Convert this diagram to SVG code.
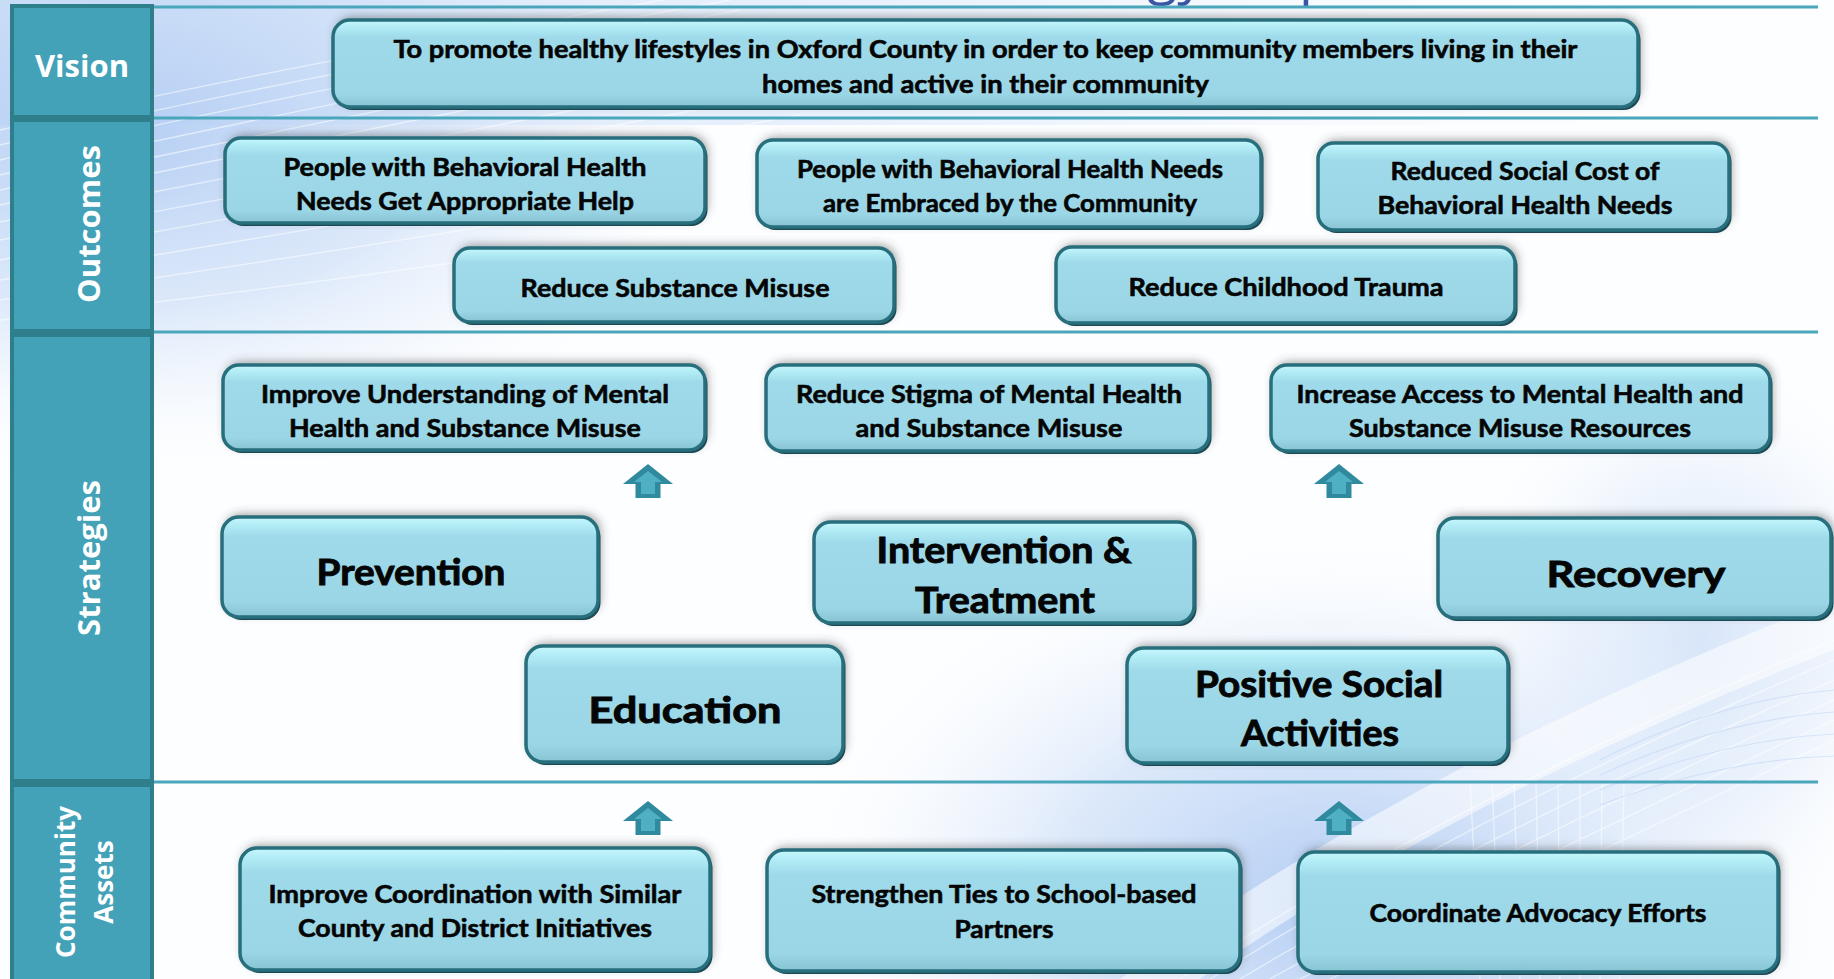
<svg xmlns="http://www.w3.org/2000/svg" width="1834" height="979" viewBox="0 0 1834 979">
<defs>
<linearGradient id="boxGrad" x1="0" y1="0" x2="0" y2="1">
<stop offset="0" stop-color="#c6f7fd"/>
<stop offset="0.09" stop-color="#b0ebf5"/>
<stop offset="0.2" stop-color="#9edae9"/>
<stop offset="0.85" stop-color="#9bd6e6"/>
<stop offset="1" stop-color="#86c3d3"/>
</linearGradient>
<radialGradient id="bgBlue" cx="0.5" cy="0.5" r="0.5">
<stop offset="0" stop-color="#b3cdf3"/>
<stop offset="0.5" stop-color="#cfe0f8" stop-opacity="0.7"/>
<stop offset="1" stop-color="#ffffff" stop-opacity="0"/>
</radialGradient>
<linearGradient id="bgTop" x1="0" y1="0" x2="1" y2="0">
<stop offset="0" stop-color="#cadef8"/>
<stop offset="0.55" stop-color="#e2edfc" stop-opacity="0.6"/>
<stop offset="1" stop-color="#ffffff" stop-opacity="0"/>
</linearGradient>
<filter id="shadow" x="-5%" y="-40%" width="110%" height="170%">
<feGaussianBlur in="SourceAlpha" stdDeviation="5"/>
<feOffset dx="0" dy="-6" result="b"/>
<feFlood flood-color="#404040" flood-opacity="0.5"/>
<feComposite in2="b" operator="in"/>
<feMerge><feMergeNode/><feMergeNode in="SourceGraphic"/></feMerge>
</filter>
<path id="arrO" d="M0,0 L25,20 L12.5,20 L12.5,34 L-12.5,34 L-12.5,20 L-25,20 Z"/>
<path id="arrI" d="M0,7 L14,18 L7,18 L7,30 L-7,30 L-7,18 L-14,18 Z"/>
</defs>
<style>
.node .edge{fill:#1a4853;filter:url(#shadow)}
.node .box{fill:url(#boxGrad);stroke:#286f7d;stroke-width:3.5}
.t{font-family:Lato,"Open Sans","Liberation Sans",sans-serif;font-weight:700;font-size:25px;fill:#050505;stroke:#050505;stroke-width:0.6;text-anchor:middle}
.t.big{font-size:36px;stroke-width:0.9}
.lab rect{fill:#43a2b7;stroke:#2e7e8c;stroke-width:4}
.lt{font-family:"Open Sans","Liberation Sans",sans-serif;font-weight:700;fill:#ffffff;text-anchor:middle}
.div{stroke:#4aa6bb;stroke-width:3}
.arrO{fill:#2f8a9d}
.arrI{fill:#4fb0c3}
.streak{fill:none;stroke:#ffffff;stroke-width:1.3;opacity:0.55}
.streakb{fill:none;stroke:#c4d8f6;stroke-width:1.2;opacity:0.6}
</style>

<g id="background">
<rect width="1834" height="979" fill="#fdfeff"/>
<rect width="1834" height="125" fill="url(#bgTop)"/>
<ellipse cx="120" cy="130" rx="640" ry="360" fill="url(#bgBlue)"/>
<ellipse cx="1330" cy="900" rx="560" ry="380" fill="url(#bgBlue)"/>
<ellipse cx="1700" cy="640" rx="260" ry="300" fill="url(#bgBlue)" opacity="0.5"/>
<path d="M1120,979 Q1420,760 1834,600 L1834,650 Q1450,800 1200,979 Z" fill="#ffffff" opacity="0.55"/>
<g class="streak">
<path d="M0,130 Q260,70 720,-10"/>
<path d="M0,145 Q270,82 730,0"/>
<path d="M0,160 Q280,95 740,10"/>
<path d="M0,175 Q290,110 750,22"/>
<path d="M0,190 Q300,125 760,35"/>
<path d="M0,205 Q310,140 770,50"/>
<path d="M0,222 Q320,160 780,70"/>
<path d="M0,240 Q330,180 790,92"/>
<path d="M0,260 Q340,200 800,115"/>
<path d="M0,280 Q350,225 810,140"/>
<path d="M0,300 Q360,250 820,170"/>
<path d="M0,320 Q370,280 830,205"/>
</g>
<g class="streak">
<path d="M1180,979 Q1450,800 1834,640"/>
<path d="M1210,979 Q1470,815 1834,660"/>
<path d="M1240,979 Q1490,830 1834,680"/>
<path d="M1270,979 Q1510,845 1834,700"/>
<path d="M1300,979 Q1530,860 1834,720"/>
<path d="M1330,979 Q1550,875 1834,740"/>
<path d="M1480,979 L1470,780"/>
<path d="M1500,979 L1492,780"/>
<path d="M1520,979 L1514,780"/>
<path d="M1540,979 L1536,780"/>
<path d="M1560,979 L1558,780"/>
<path d="M1580,979 L1580,780"/>
<path d="M1600,979 L1602,780"/>
<path d="M1620,979 L1624,780"/>
</g>
<g class="streakb">
<path d="M1600,760 Q1720,700 1834,690"/>
<path d="M1600,775 Q1720,720 1834,712"/>
<path d="M1600,790 Q1720,740 1834,734"/>
<path d="M1600,805 Q1720,760 1834,756"/>
</g>
<text x="994" y="-7" font-family="'Open Sans','Liberation Sans',sans-serif" font-size="55" fill="#3b55a5">Strategy Map</text>
</g>

<g id="dividers">
<line class="div" x1="152" y1="7" x2="1818" y2="7"/>
<line class="div" x1="152" y1="118" x2="1818" y2="118"/>
<line class="div" x1="152" y1="332" x2="1818" y2="332"/>
<line class="div" x1="152" y1="782" x2="1818" y2="782"/>
</g>

<g id="label-vision" class="lab">
<rect x="12" y="6" width="140" height="111"/>
<text class="lt" x="82" y="77" font-size="31">Vision</text>
</g>
<g id="label-outcomes" class="lab">
<rect x="12" y="120" width="140" height="211"/>
<text class="lt" font-size="31" transform="translate(100,224) rotate(-90)">Outcomes</text>
</g>
<g id="label-strategies" class="lab">
<rect x="12" y="335" width="140" height="446"/>
<text class="lt" font-size="31" transform="translate(100,558) rotate(-90)">Strategies</text>
</g>
<g id="label-community-assets" class="lab">
<rect x="12" y="785" width="140" height="200"/>
<text class="lt" font-size="26" transform="translate(75,882) rotate(-90)">Community</text>
<text class="lt" font-size="26" transform="translate(113,882) rotate(-90)">Assets</text>
</g>

<g id="vision" class="node">
<rect class="edge" x="335.5" y="23" width="1305" height="87" rx="17"/>
<rect class="box" x="333" y="20" width="1305" height="87" rx="17"/>
<text class="t" x="985.5" y="58" textLength="1184" lengthAdjust="spacingAndGlyphs">To promote healthy lifestyles in Oxford County in order to keep community members living in their</text>
<text class="t" x="985.5" y="93" textLength="447" lengthAdjust="spacingAndGlyphs">homes and active in their community</text>
</g>

<g id="outcome-appropriate-help" class="node">
<rect class="edge" x="227.5" y="141" width="480" height="85" rx="16"/>
<rect class="box" x="225" y="138" width="480" height="85" rx="16"/>
<text class="t" x="465" y="176" textLength="363" lengthAdjust="spacingAndGlyphs">People with Behavioral Health</text>
<text class="t" x="465" y="210" textLength="338" lengthAdjust="spacingAndGlyphs">Needs Get Appropriate Help</text>
</g>
<g id="outcome-embraced" class="node">
<rect class="edge" x="759.5" y="143" width="504" height="87" rx="16"/>
<rect class="box" x="757" y="140" width="504" height="87" rx="16"/>
<text class="t" x="1010" y="178" textLength="426" lengthAdjust="spacingAndGlyphs">People with Behavioral Health Needs</text>
<text class="t" x="1010" y="212" textLength="374" lengthAdjust="spacingAndGlyphs">are Embraced by the Community</text>
</g>
<g id="outcome-social-cost" class="node">
<rect class="edge" x="1320.5" y="146" width="411" height="87" rx="16"/>
<rect class="box" x="1318" y="143" width="411" height="87" rx="16"/>
<text class="t" x="1525" y="180" textLength="269" lengthAdjust="spacingAndGlyphs">Reduced Social Cost of</text>
<text class="t" x="1525" y="214" textLength="295" lengthAdjust="spacingAndGlyphs">Behavioral Health Needs</text>
</g>
<g id="outcome-substance-misuse" class="node">
<rect class="edge" x="456.5" y="251" width="440" height="74" rx="16"/>
<rect class="box" x="454" y="248" width="440" height="74" rx="16"/>
<text class="t" x="675" y="297" textLength="309" lengthAdjust="spacingAndGlyphs">Reduce Substance Misuse</text>
</g>
<g id="outcome-childhood-trauma" class="node">
<rect class="edge" x="1058.5" y="250" width="459" height="76" rx="16"/>
<rect class="box" x="1056" y="247" width="459" height="76" rx="16"/>
<text class="t" x="1286" y="296" textLength="315" lengthAdjust="spacingAndGlyphs">Reduce Childhood Trauma</text>
</g>

<g id="strategy-understanding" class="node">
<rect class="edge" x="225.5" y="368" width="482" height="85" rx="16"/>
<rect class="box" x="223" y="365" width="482" height="85" rx="16"/>
<text class="t" x="465" y="403" textLength="408" lengthAdjust="spacingAndGlyphs">Improve Understanding of Mental</text>
<text class="t" x="465" y="437" textLength="352" lengthAdjust="spacingAndGlyphs">Health and Substance Misuse</text>
</g>
<g id="strategy-stigma" class="node">
<rect class="edge" x="768.5" y="368" width="443" height="86" rx="16"/>
<rect class="box" x="766" y="365" width="443" height="86" rx="16"/>
<text class="t" x="989" y="403" textLength="386" lengthAdjust="spacingAndGlyphs">Reduce Stigma of Mental Health</text>
<text class="t" x="989" y="437" textLength="267" lengthAdjust="spacingAndGlyphs">and Substance Misuse</text>
</g>
<g id="strategy-access" class="node">
<rect class="edge" x="1273.5" y="368" width="499" height="86" rx="16"/>
<rect class="box" x="1271" y="365" width="499" height="86" rx="16"/>
<text class="t" x="1520" y="403" textLength="447" lengthAdjust="spacingAndGlyphs">Increase Access to Mental Health and</text>
<text class="t" x="1520" y="437" textLength="342" lengthAdjust="spacingAndGlyphs">Substance Misuse Resources</text>
</g>
<g id="strategy-prevention" class="node">
<rect class="edge" x="224.5" y="520" width="376" height="100" rx="17"/>
<rect class="box" x="222" y="517" width="376" height="100" rx="17"/>
<text class="t big" x="411" y="585" textLength="189" lengthAdjust="spacingAndGlyphs">Prevention</text>
</g>
<g id="strategy-intervention" class="node">
<rect class="edge" x="816.5" y="525" width="380" height="101" rx="17"/>
<rect class="box" x="814" y="522" width="380" height="101" rx="17"/>
<text class="t big" x="1004" y="563" textLength="255" lengthAdjust="spacingAndGlyphs">Intervention &amp;</text>
<text class="t big" x="1005" y="613" textLength="180" lengthAdjust="spacingAndGlyphs">Treatment</text>
</g>
<g id="strategy-recovery" class="node">
<rect class="edge" x="1440.5" y="521" width="393" height="100" rx="17"/>
<rect class="box" x="1438" y="518" width="393" height="100" rx="17"/>
<text class="t big" x="1636" y="587" textLength="179" lengthAdjust="spacingAndGlyphs">Recovery</text>
</g>
<g id="strategy-education" class="node">
<rect class="edge" x="528.5" y="649" width="317" height="116" rx="17"/>
<rect class="box" x="526" y="646" width="317" height="116" rx="17"/>
<text class="t big" x="685" y="723" textLength="193" lengthAdjust="spacingAndGlyphs">Education</text>
</g>
<g id="strategy-social-activities" class="node">
<rect class="edge" x="1129.5" y="651" width="381" height="115" rx="17"/>
<rect class="box" x="1127" y="648" width="381" height="115" rx="17"/>
<text class="t big" x="1319" y="697" textLength="248" lengthAdjust="spacingAndGlyphs">Positive Social</text>
<text class="t big" x="1320" y="746" textLength="158" lengthAdjust="spacingAndGlyphs">Activities</text>
</g>

<g id="asset-coordination" class="node">
<rect class="edge" x="242.5" y="851" width="470" height="122" rx="17"/>
<rect class="box" x="240" y="848" width="470" height="122" rx="17"/>
<text class="t" x="475" y="903" textLength="413" lengthAdjust="spacingAndGlyphs">Improve Coordination with Similar</text>
<text class="t" x="475" y="937" textLength="354" lengthAdjust="spacingAndGlyphs">County and District Initiatives</text>
</g>
<g id="asset-school-ties" class="node">
<rect class="edge" x="769.5" y="853" width="473" height="121" rx="17"/>
<rect class="box" x="767" y="850" width="473" height="121" rx="17"/>
<text class="t" x="1004" y="903" textLength="385" lengthAdjust="spacingAndGlyphs">Strengthen Ties to School-based</text>
<text class="t" x="1004" y="938" textLength="99" lengthAdjust="spacingAndGlyphs">Partners</text>
</g>
<g id="asset-advocacy" class="node">
<rect class="edge" x="1300.5" y="855" width="480" height="120" rx="17"/>
<rect class="box" x="1298" y="852" width="480" height="120" rx="17"/>
<text class="t" x="1538" y="922" textLength="337" lengthAdjust="spacingAndGlyphs">Coordinate Advocacy Efforts</text>
</g>

<g id="connectors">
<use href="#arrO" class="arrO" x="648" y="464"/>
<use href="#arrI" class="arrI" x="648" y="464"/>
<use href="#arrO" class="arrO" x="1339" y="464"/>
<use href="#arrI" class="arrI" x="1339" y="464"/>
<use href="#arrO" class="arrO" x="648" y="801"/>
<use href="#arrI" class="arrI" x="648" y="801"/>
<use href="#arrO" class="arrO" x="1339" y="801"/>
<use href="#arrI" class="arrI" x="1339" y="801"/>
</g>
</svg>
